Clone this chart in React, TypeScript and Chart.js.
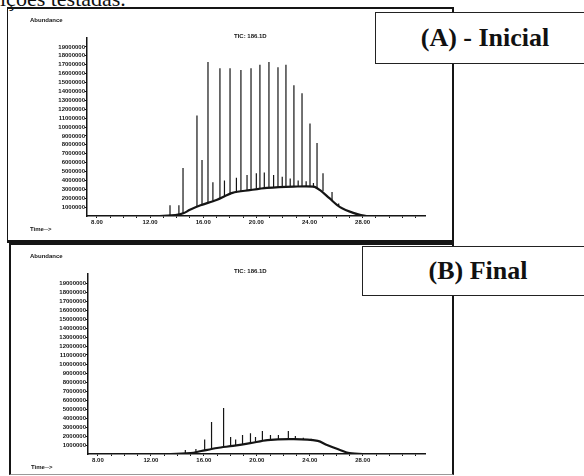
import React, { useEffect, useRef } from 'react';
import { Chart, registerables } from 'chart.js';
Chart.register(...registerables);

// ---- axis ticks ----
const xLabelValues = [8, 12, 16, 20, 24, 28];
const xMinorTicks = [8, 9, 10, 11, 12, 13, 14, 15, 16, 17, 18, 19, 20, 21, 22, 23, 24, 25, 26, 27, 28, 29, 30, 31, 32];
const yTickValues = [1, 2, 3, 4, 5, 6, 7, 8, 9, 10, 11, 12, 13, 14, 15, 16, 17, 18, 19]; // millions
const X_MIN = 7.25;
const X_MAX = 32.7;
const Y_MAX = 20;

// ---- (A) Inicial : hump (unresolved envelope), abundance in millions ----
const humpATimes = [7.25, 12.7, 13.9, 14.5, 15.0, 15.8, 17.0, 18.2, 19.5, 20.8, 22.8, 24.3, 24.8, 25.5, 26.3, 27.3, 28.3, 32.7];
const humpAValues = [0, 0, 0.1, 0.3, 0.7, 1.2, 1.8, 2.6, 2.9, 3.15, 3.3, 3.3, 2.9, 2.0, 1.0, 0.35, 0, 0];

// ---- (A) peaks ----
const peakATimes = [13.5, 14.17, 14.48, 15.53, 15.91, 16.36, 16.73, 17.26, 17.6, 18.02, 18.5, 18.84, 19.3, 19.6, 20.0, 20.27, 20.6, 20.95, 21.3, 21.63, 21.95, 22.23, 22.55, 22.83, 23.15, 23.44, 23.75, 24.04, 24.3, 24.57, 25.02, 25.7, 26.2];
const peakATops = [1.2, 1.2, 5.4, 11.3, 6.3, 17.3, 3.8, 16.6, 4.0, 16.6, 4.3, 16.4, 4.6, 16.6, 4.8, 17.0, 4.9, 17.3, 4.6, 16.7, 4.4, 17.0, 4.2, 14.7, 4.0, 13.8, 3.9, 10.4, 3.7, 8.2, 4.8, 2.7, 1.4];
const peakABases = [0.05, 0.2, 0.3, 1.0, 1.2, 1.5, 1.7, 1.9, 2.2, 2.4, 2.6, 2.7, 2.85, 2.9, 3.05, 3.1, 3.15, 3.15, 3.2, 3.2, 3.25, 3.25, 3.3, 3.3, 3.3, 3.3, 3.3, 3.3, 3.2, 3.1, 2.8, 1.8, 1.1];

// ---- (B) Final : hump ----
const humpBTimes = [7.25, 13.5, 15.0, 15.8, 17.0, 18.2, 19.5, 20.8, 22.8, 24.6, 25.3, 26.1, 27.0, 28.0, 32.7];
const humpBValues = [0, 0, 0.1, 0.33, 0.67, 0.9, 1.2, 1.55, 1.65, 1.45, 1.0, 0.55, 0.1, 0, 0];

// ---- (B) peaks ----
const peakBTimes = [14.6, 15.4, 16.06, 16.58, 17.49, 18.02, 18.4, 18.92, 19.52, 19.9, 20.42, 21.03, 21.63, 22.38, 22.91, 23.51, 24.1];
const peakBTops = [0.45, 0.55, 1.6, 3.55, 5.1, 1.9, 1.6, 2.1, 2.3, 1.9, 2.55, 2.1, 2.1, 2.55, 2.0, 1.8, 1.7];
const peakBBases = [0.02, 0.15, 0.4, 0.5, 0.8, 0.9, 1.0, 1.1, 1.2, 1.35, 1.45, 1.55, 1.6, 1.65, 1.65, 1.6, 1.5];

const INK = '#151515';
const tickFont = { family: '"Liberation Sans", Arial, sans-serif', size: 6, weight: 'bold' as const };

type Geo = { top: number; height: number; padTop: number; yWidth: number; xHeight: number };

function buildPeaks(times: number[], tops: number[], bases: number[]) {
  const pts: { x: number; y: number | null }[] = [];
  times.forEach((t, i) => {
    pts.push({ x: t, y: bases[i] });
    pts.push({ x: t, y: tops[i] });
    pts.push({ x: t, y: null });
  });
  return pts;
}

function Chromatogram(props: {
  geo: Geo;
  humpT: number[];
  humpV: number[];
  peakT: number[];
  peakTop: number[];
  peakBase: number[];
}) {
  const ref = useRef<HTMLCanvasElement>(null);
  const { geo } = props;
  useEffect(() => {
    if (!ref.current) return;
    const chart = new Chart(ref.current, {
      type: 'scatter',
      data: {
        datasets: [
          {
            data: props.humpT.map((t, i) => ({ x: t, y: props.humpV[i] })),
            showLine: true,
            borderColor: INK,
            borderWidth: 2.2,
            pointRadius: 0,
            tension: 0.3,
          },
          {
            data: buildPeaks(props.peakT, props.peakTop, props.peakBase) as any,
            showLine: true,
            spanGaps: false,
            borderColor: INK,
            borderWidth: 1.2,
            pointRadius: 0,
          },
        ],
      },
      options: {
        animation: false,
        responsive: false,
        maintainAspectRatio: false,
        layout: { padding: { top: geo.padTop, right: 15, left: 0, bottom: 0 } },
        plugins: { legend: { display: false }, tooltip: { enabled: false } },
        scales: {
          x: {
            type: 'linear',
            min: X_MIN,
            max: X_MAX,
            afterBuildTicks: (s: any) => {
              s.ticks = xMinorTicks.map((v) => ({ value: v }));
            },
            afterFit: (s: any) => {
              s.height = geo.xHeight;
            },
            ticks: {
              autoSkip: false,
              maxRotation: 0,
              padding: 1,
              color: INK,
              font: tickFont,
              callback: (v: any) => (xLabelValues.includes(Number(v)) ? Number(v).toFixed(2) : ''),
            },
            grid: { display: true, drawOnChartArea: false, tickLength: 2, color: INK, lineWidth: 1 },
            border: { display: true, color: INK, width: 1.5 },
          },
          y: {
            type: 'linear',
            min: 0,
            max: Y_MAX,
            afterBuildTicks: (s: any) => {
              s.ticks = yTickValues.map((v) => ({ value: v }));
            },
            afterFit: (s: any) => {
              s.width = geo.yWidth;
            },
            ticks: {
              autoSkip: false,
              padding: 0,
              color: INK,
              font: tickFont,
              callback: (v: any) => String(Math.round(Number(v) * 1000000)),
            },
            grid: { display: true, drawOnChartArea: false, tickLength: 2, color: INK, lineWidth: 1 },
            border: { display: true, color: INK, width: 1.5 },
          },
        },
      },
    });
    return () => chart.destroy();
  }, []);
  return (
    <canvas
      ref={ref}
      width={440}
      height={geo.height}
      style={{ position: 'absolute', left: 0, top: geo.top, width: 440, height: geo.height }}
    />
  );
}

const small: React.CSSProperties = {
  position: 'absolute',
  fontFamily: '"Liberation Sans", Arial, sans-serif',
  fontSize: 6,
  fontWeight: 'bold',
  color: INK,
  whiteSpace: 'nowrap',
  lineHeight: '7px',
};

const labelBox: React.CSSProperties = {
  position: 'absolute',
  boxSizing: 'border-box',
  border: '1.5px solid #222',
  background: '#fff',
  display: 'flex',
  alignItems: 'center',
  justifyContent: 'center',
  fontFamily: '"Liberation Serif", "Times New Roman", serif',
  fontWeight: 'bold',
  fontSize: 26,
  color: '#111',
};

export default function App() {
  return (
    <div
      style={{
        position: 'fixed',
        left: 0,
        top: 0,
        width: 584,
        height: 476,
        background: '#fff',
        overflow: 'hidden',
      }}
    >
      <div
        style={{
          position: 'absolute',
          left: 0,
          top: -12,
          fontFamily: '"Liberation Serif", "Times New Roman", serif',
          fontSize: 22,
          lineHeight: '22px',
          color: '#111',
          whiteSpace: 'nowrap',
        }}
      >
        ições testadas.
      </div>

      {/* panel frames */}
      <div
        style={{
          position: 'absolute',
          left: 7,
          top: 7,
          width: 447,
          height: 236,
          boxSizing: 'border-box',
          borderTop: '2px solid #151515',
          borderLeft: '1.5px solid #151515',
          borderRight: '2px solid #151515',
          borderBottom: '3px solid #151515',
        }}
      />
      <div
        style={{
          position: 'absolute',
          left: 9,
          top: 243,
          width: 445,
          height: 232,
          boxSizing: 'border-box',
          borderTop: '2px solid #151515',
          borderLeft: '2px solid #151515',
          borderRight: '2px solid #151515',
          borderBottom: '1px solid #999',
        }}
      />

      <Chromatogram
        geo={{ top: 0, height: 240, padTop: 38, yWidth: 87, xHeight: 24 }}
        humpT={humpATimes}
        humpV={humpAValues}
        peakT={peakATimes}
        peakTop={peakATops}
        peakBase={peakABases}
      />
      <Chromatogram
        geo={{ top: 240, height: 236, padTop: 34, yWidth: 88, xHeight: 22 }}
        humpT={humpBTimes}
        humpV={humpBValues}
        peakT={peakBTimes}
        peakTop={peakBTops}
        peakBase={peakBBases}
      />

      <div style={{ ...small, left: 30, top: 17 }}>Abundance</div>
      <div style={{ ...small, left: 234, top: 33 }}>TIC: 186.1D</div>
      <div style={{ ...small, left: 30, top: 226 }}>Time--&gt;</div>

      <div style={{ ...small, left: 30, top: 253 }}>Abundance</div>
      <div style={{ ...small, left: 234, top: 268 }}>TIC: 186.1D</div>
      <div style={{ ...small, left: 31, top: 464 }}>Time--&gt;</div>

      <div style={{ ...labelBox, left: 375, top: 12, width: 220, height: 52 }}>(A) - Inicial</div>
      <div style={{ ...labelBox, left: 362, top: 246, width: 232, height: 50 }}>(B) Final</div>
    </div>
  );
}
